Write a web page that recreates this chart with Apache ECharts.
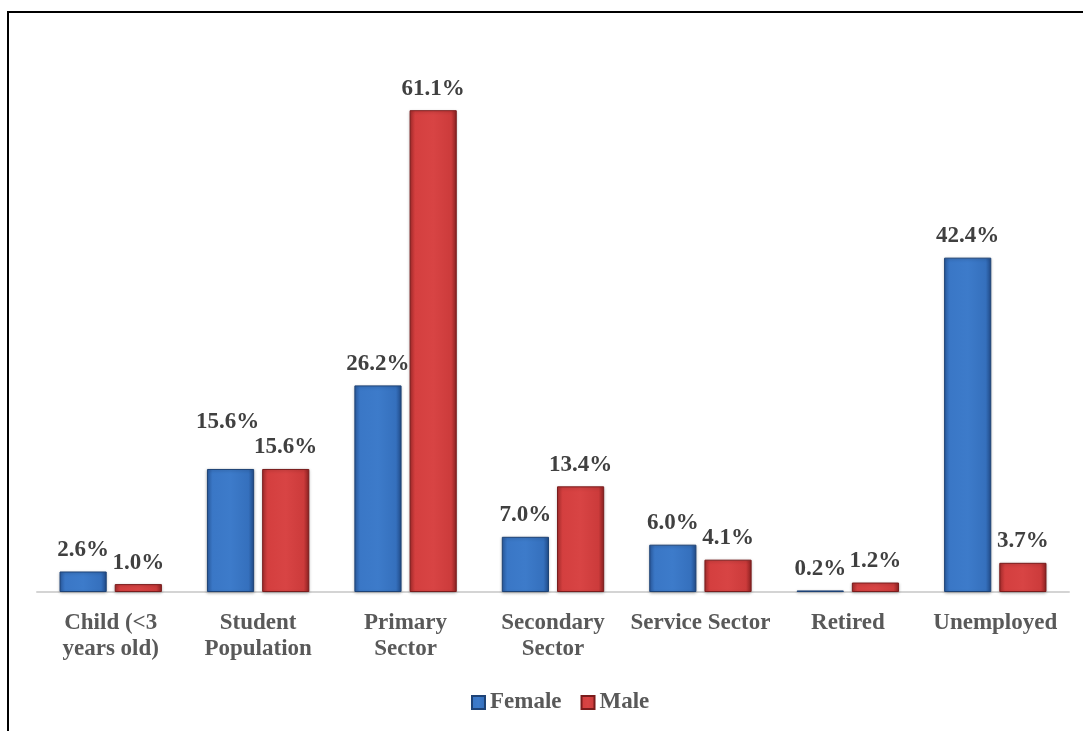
<!DOCTYPE html>
<html>
<head>
<meta charset="utf-8">
<title>Occupation by sex</title>
<script src="https://cdn.jsdelivr.net/npm/echarts@6/dist/echarts.min.js"></script>
<style>
  html, body { margin: 0; padding: 0; background: #ffffff; }
  #chart { width: 1083px; height: 731px; }
</style>
</head>
<body>
<div id="chart"></div>
<script>
// Occupation categories (line breaks as shown on the axis)
const categories = [
  'Child (<3\nyears old)',
  'Student\nPopulation',
  'Primary\nSector',
  'Secondary\nSector',
  'Service Sector',
  'Retired',
  'Unemployed'
];

// Share of each group, percent
const femaleValues = [2.6, 15.6, 26.2, 7.0, 6.0, 0.2, 42.4];
const maleValues   = [1.0, 15.6, 61.1, 13.4, 4.1, 1.2, 3.7];

const seriesNames = ['Female', 'Male'];

const serif = '"Liberation Serif", "Times New Roman", serif';

// Beveled-looking fills: darker edges, brighter face
function blueFill() {
  return new echarts.graphic.LinearGradient(0, 0, 1, 0, [
    { offset: 0, color: '#2a5ba0' },
    { offset: 0.12, color: '#3a77c6' },
    { offset: 0.5, color: '#3d7bca' },
    { offset: 0.88, color: '#3570bd' },
    { offset: 1, color: '#224d8c' }
  ]);
}
function redFill() {
  return new echarts.graphic.LinearGradient(0, 0, 1, 0, [
    { offset: 0, color: '#a52c2c' },
    { offset: 0.12, color: '#d43f3f' },
    { offset: 0.5, color: '#d84444' },
    { offset: 0.88, color: '#cc3b3b' },
    { offset: 1, color: '#8f2222' }
  ]);
}

const labelStyle = {
  show: true,
  position: 'top',
  distance: 10,
  fontFamily: serif,
  fontWeight: 'bold',
  fontSize: 23,
  color: '#404040',
  formatter: p => p.value.toFixed(1) + '%'
};

// Female student label sits higher so it clears its neighbour
function femaleData() {
  return femaleValues.map((v, i) => {
    if (i === 1) {
      return { value: v, label: { offset: [-3, -25] } };
    }
    return v;
  });
}

const chart = echarts.init(document.getElementById('chart'), null, { renderer: 'canvas' });

chart.setOption({
  backgroundColor: '#ffffff',
  animation: false,
  graphic: [{
    type: 'rect',
    shape: { x: 8, y: 12, width: 1200, height: 900 },
    style: { fill: 'none', stroke: '#000000', lineWidth: 2 },
    silent: true,
    z: 100
  }],
  grid: {
    left: 37,
    right: 14,
    top: 40,
    bottom: 139
  },
  legend: {
    data: seriesNames,
    left: 466,
    top: 686,
    itemWidth: 13,
    itemHeight: 13,
    itemGap: 19,
    icon: 'rect',
    textStyle: {
      fontFamily: serif,
      fontWeight: 'bold',
      fontSize: 23,
      color: '#595959'
    }
  },
  xAxis: {
    type: 'category',
    data: categories,
    axisTick: { show: false },
    axisLine: { show: true, lineStyle: { color: '#d4d4d4', width: 2 } },
    axisLabel: {
      margin: 18,
      interval: 0,
      fontFamily: serif,
      fontWeight: 'bold',
      fontSize: 23,
      lineHeight: 26,
      color: '#595959'
    }
  },
  yAxis: {
    type: 'value',
    min: 0,
    max: 70,
    show: false,
    splitLine: { show: false }
  },
  series: [
    {
      name: seriesNames[0],
      type: 'bar',
      data: femaleData(),
      barWidth: '32%',
      barGap: '17%',
      itemStyle: {
        color: blueFill(),
        borderColor: '#1e4376',
        borderWidth: 1,
        shadowColor: 'rgba(0,0,0,0.25)',
        shadowBlur: 3,
        shadowOffsetY: 1
      },
      label: labelStyle
    },
    {
      name: seriesNames[1],
      type: 'bar',
      data: maleValues,
      barWidth: '32%',
      barGap: '17%',
      itemStyle: {
        color: redFill(),
        borderColor: '#7a1c1c',
        borderWidth: 1,
        shadowColor: 'rgba(0,0,0,0.25)',
        shadowBlur: 3,
        shadowOffsetY: 1
      },
      label: labelStyle
    }
  ]
});
</script>
</body>
</html>
